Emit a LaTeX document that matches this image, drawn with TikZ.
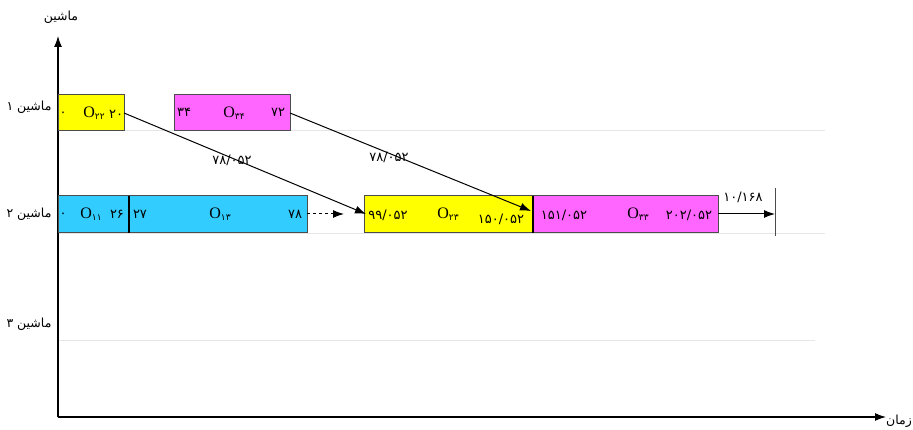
\documentclass[tikz,border=0pt]{standalone}
\usepackage{fontspec}
\usetikzlibrary{arrows.meta}
\TeXXeTstate=1
\newfontfamily\fa[Script=Arabic]{DejaVu Sans}
\newfontfamily\ser{Liberation Serif}
\definecolor{jobA}{HTML}{33CCFF}
\definecolor{jobB}{HTML}{FFFF00}
\definecolor{jobC}{HTML}{FF66FF}
\definecolor{grid}{HTML}{E6E6E6}
\newcommand{\op}[1]{{\ser O}\raisebox{-0.3ex}{\fa\fontsize{9}{10}\selectfont #1}}
\begin{document}
\begin{tikzpicture}[x=1pt,y=-1pt,
  task/.style={draw=black!70,line width=1pt},
  num/.style={font=\fa\fontsize{13}{15}\selectfont,inner sep=0pt},
  opl/.style={font=\fontsize{16}{18}\selectfont,inner sep=0pt},
  lbl/.style={font=\fa\fontsize{12.5}{14}\selectfont,inner sep=0pt},
  arr/.style={-{Latex[length=11pt,width=8pt]},line width=1pt},
  gridline/.style={draw=grid,line width=0.8pt}]
\useasboundingbox (0,0) rectangle (913,430);

% axes
\coordinate (o) at (58,417);
\coordinate (ytop) at (58,36);
\coordinate (xend) at (886,417);
\draw[gridline] (58,130) -- (825,130);
\draw[gridline] (58,233) -- (825,233);
\draw[gridline] (58,340) -- (815,340);
\draw[arr,line width=1.1pt] (o) -- (ytop);
\draw[arr,line width=1.1pt] (o) -- (xend);
\node[lbl] (ylab) at (61,17) {\beginR ماشین\endR};
\node[lbl] (xlab) at (899,421) {\beginR زمان\endR};

% machine labels
\node[lbl] (m1) at (29,107) {\beginR ماشین ۱\endR};
\node[lbl] (m2) at (29,214) {\beginR ماشین ۲\endR};
\node[lbl] (m3) at (29,324) {\beginR ماشین ۳\endR};

% machine 1
\draw[task,fill=jobB] (58,95) rectangle (124,131);
\node[num] (a0) at (63,114) {۰};
\node[opl] (a1) at (94,113) {\op{۲۲}};
\node[num] (a2) at (116,114) {۲۰};
\coordinate (o22e) at (124,113);

\draw[task,fill=jobC] (174,95) rectangle (290,131);
\node[num] (b0) at (184,112) {۳۴};
\node[opl] (b1) at (234,113) {\op{۳۴}};
\node[num] (b2) at (278,112) {۷۲};
\coordinate (o34e) at (290,113);

% machine 2
\draw[task,fill=jobA] (58,196) rectangle (307,233);
\draw[line width=1.3pt] (129,196) -- (129,233);
\node[num] (c0) at (63,215) {۰};
\node[opl] (c1) at (91,214) {\op{۱۱}};
\node[num] (c2) at (117,214) {۲۶};
\node[num] (c3) at (140,214) {۲۷};
\node[opl] (c4) at (220,214) {\op{۱۳}};
\node[num] (c5) at (295,214) {۷۸};
\coordinate (o13e) at (307,214);
\coordinate (dashend) at (344,214);

\draw[task,fill=jobB] (364,196) rectangle (533,233);
\node[num] (d0) at (388,215) {۹۹/۰۵۲};
\node[opl] (d1) at (448,214) {\op{۲۳}};
\node[num] (d2) at (501,219) {۱۵۰/۰۵۲};
\coordinate (o23s) at (366,214);

\draw[task,fill=jobC] (533,196) rectangle (718,233);
\draw[line width=1.3pt] (533,196) -- (533,233);
\node[num] (e0) at (564,215) {۱۵۱/۰۵۲};
\node[opl] (e1) at (638,214) {\op{۳۳}};
\node[num] (e2) at (689,215) {۲۰۲/۰۵۲};
\coordinate (o33s) at (531,211);
\coordinate (o33e) at (718,214);

% end marker
\coordinate (mt) at (775,188);
\coordinate (mb) at (775,236);
\coordinate (mm) at (775,214);
\draw[line width=1pt,black!70] (mt) -- (mb);
\node[num] (f0) at (743,197) {۱۰/۱۶۸};

% connectors
\draw[arr,dashed] (o13e) -- (dashend);
\draw[arr] (o22e) -- (o23s);
\draw[arr] (o34e) -- (o33s);
\draw[arr] (o33e) -- (mm);
\node[num] (g0) at (232,160) {۷۸/۰۵۲};
\node[num] (g1) at (389,157) {۷۸/۰۵۲};
\end{tikzpicture}
\end{document}
